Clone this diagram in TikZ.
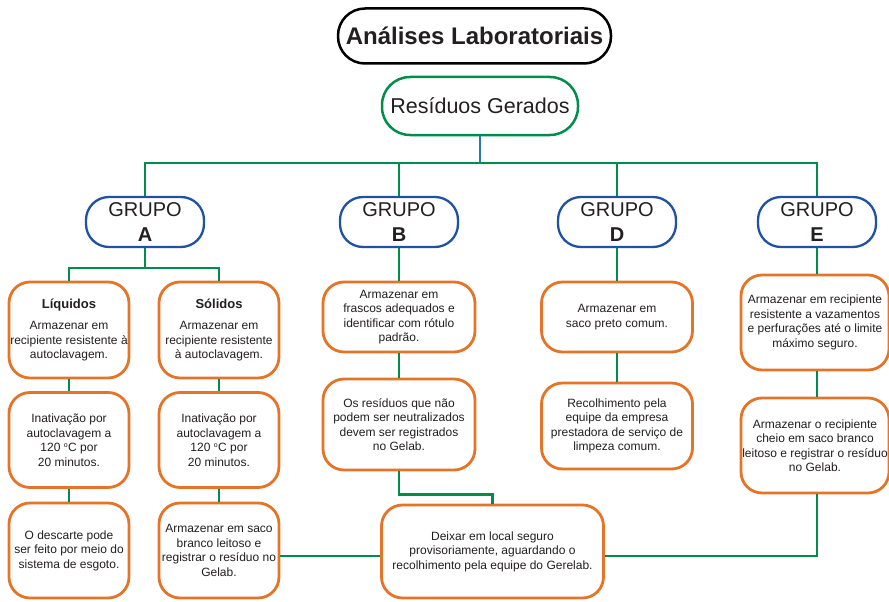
\documentclass[tikz,border=0pt]{standalone}
\usepackage{fontspec}
\setmainfont{Liberation Sans}
\usepackage{tikz}
\usetikzlibrary{positioning}
\definecolor{boxOrange}{RGB}{230,116,40}
\definecolor{lineGreen}{RGB}{0,140,75}
\definecolor{groupBlue}{RGB}{32,82,164}
\definecolor{stemBlue}{RGB}{40,120,192}
\definecolor{inkGray}{RGB}{35,31,32}

\begin{document}
\begin{tikzpicture}[x=1pt, y=-1pt, text=inkGray,
    passo/.style={draw=boxOrange, line width=2.8pt, rounded corners=21pt, align=center,
        inner sep=1pt, fill=white, font=\fontsize{12}{14.5}\selectfont},
    grupo/.style={draw=groupBlue, line width=2.3pt, rounded corners=23pt, align=center,
        minimum width=118pt, minimum height=50pt, inner sep=0pt, fill=white,
        font=\fontsize{20}{25}\selectfont},
    liga/.style={draw=lineGreen, line width=2.8pt}]
            \useasboundingbox (0,0) rectangle (889,602);

            \node[draw=black, line width=2.5pt, rounded corners=27pt, minimum width=273pt,
                minimum height=55pt, font=\fontsize{24}{28}\selectfont\bfseries] (titulo) at (474.5,36) {Análises Laboratoriais};
            \node[draw=lineGreen, line width=2.5pt, rounded corners=28pt, minimum width=196pt,
                minimum height=58pt, font=\fontsize{21.5}{25}\selectfont] (gerados) at (480,106) {Resíduos Gerados};

            \coordinate (barra) at (480,163);
            \node[grupo] (grpA) at (145,222) {GRUPO\\\textbf{A}};
            \node[grupo] (grpB) at (399,222) {GRUPO\\\textbf{B}};
            \node[grupo] (grpD) at (617,222) {GRUPO\\\textbf{D}};
            \node[grupo] (grpE) at (817,222) {GRUPO\\\textbf{E}};

            \node[passo, minimum width=120pt, minimum height=96pt] (liqA) at (69,330) {\textbf{\fontsize{13}{15}\selectfont Líquidos}\\[7pt]Armazenar em\\recipiente resistente à\\autoclavagem.};
            \node[passo, minimum width=120pt, minimum height=96pt] (solA) at (219,330) {\textbf{\fontsize{13}{15}\selectfont Sólidos}\\[7pt]Armazenar em\\recipiente resistente\\à autoclavagem.};
            \node[passo, minimum width=120pt, minimum height=95pt] (liqB) at (69,440) {Inativação por\\autoclavagem a\\120 \textsuperscript{\scriptsize o}C por\\20 minutos.};
            \node[passo, minimum width=120pt, minimum height=95pt] (solB) at (219,440) {Inativação por\\autoclavagem a\\120 \textsuperscript{\scriptsize o}C por\\20 minutos.};
            \node[passo, minimum width=120pt, minimum height=95pt] (liqC) at (69,550.5) {O descarte pode\\ser feito por meio do\\sistema de esgoto.};
            \node[passo, minimum width=120pt, minimum height=95pt] (solC) at (219,550.5) {Armazenar em saco\\branco leitoso e\\registrar o resíduo no\\Gelab.};

            \node[passo, minimum width=152pt, minimum height=70pt] (bA) at (399,317) {Armazenar em\\frascos adequados e\\identificar com rótulo\\padrão.};
            \node[passo, minimum width=152pt, minimum height=91pt] (bB) at (399,424.5) {Os resíduos que não\\podem ser neutralizados\\devem ser registrados\\no Gelab.};

            \node[passo, minimum width=151pt, minimum height=70pt] (dA) at (617,317) {Armazenar em\\saco preto comum.};
            \node[passo, minimum width=151pt, minimum height=86pt] (dB) at (617,426) {Recolhimento pela\\equipe da empresa\\prestadora de serviço de\\limpeza comum.};

            \node[passo, minimum width=148pt, minimum height=95pt] (eA) at (815,322.5) {Armazenar em recipiente\\resistente a vazamentos\\e perfurações até o limite\\máximo seguro.};
            \node[passo, minimum width=148pt, minimum height=95pt] (eB) at (815,445.5) {Armazenar o recipiente\\cheio em saco branco\\leitoso e registrar o resíduo\\no Gelab.};

            \node[passo, minimum width=222pt, minimum height=93pt] (deixar) at (492.5,551.5) {Deixar em local seguro\\provisoriamente, aguardando o\\recolhimento pela equipe do Gerelab.};

            \draw[stemBlue, line width=2pt] (gerados.south) -- (barra);
            \draw[liga] (grpA.north) |- (barra) -| (grpE.north);
            \draw[liga] (grpB.north) -- (grpB.north |- barra);
            \draw[liga] (grpD.north) -- (grpD.north |- barra);

            \coordinate (ramoA) at (145,268);
            \draw[liga] (grpA.south) -- (ramoA);
            \draw[liga] (liqA.north) |- (ramoA) -| (solA.north);
            \draw[liga] (liqA) -- (liqB);
            \draw[liga] (liqB) -- (liqC);
            \draw[liga] (solA) -- (solB);
            \draw[liga] (solB) -- (solC);
            \draw[liga] (solC.east |- 0,556) -- (deixar.west |- 0,556);

            \draw[liga] (grpB) -- (bA);
            \draw[liga] (bA) -- (bB);
            \draw[liga] (bB.south) -- ++(0,23) -| (deixar.north);

            \draw[liga] (grpD) -- (dA);
            \draw[liga] (dA) -- (dB);

            \draw[liga] (grpE) -- (grpE |- eA.north);
            \draw[liga] (grpE |- eA.south) -- (grpE |- eB.north);
            \draw[liga] (grpE |- eB.south) |- (deixar.east |- 0,556);
        \end{tikzpicture}
\end{document}
